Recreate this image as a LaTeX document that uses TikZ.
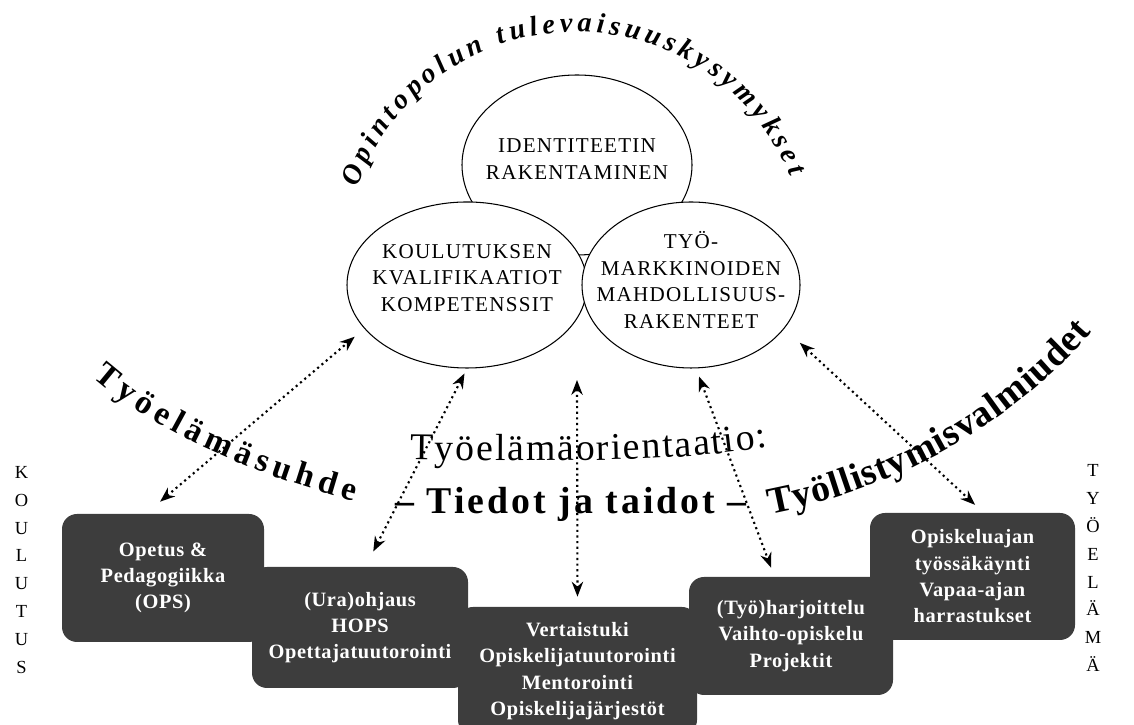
\documentclass[tikz,border=0pt]{standalone}
\usepackage{fontspec}
\setmainfont{Liberation Serif}
\newfontfamily\ovalfont[LetterSpace=6]{Liberation Serif}
\newfontfamily\widefont[LetterSpace=8]{Liberation Serif}
\newfontfamily\boxfont[LetterSpace=3]{Liberation Serif}
\usetikzlibrary{positioning,arrows.meta,shapes.geometric,decorations.text}
\definecolor{boxGray}{HTML}{3D3D3D}

\begin{document}
\begin{tikzpicture}[
  oval/.style={ellipse, draw, fill=white, line width=0.6pt, inner sep=0pt},
  ovaltext/.style={align=center, font=\ovalfont\fontsize{12}{15}\selectfont},
  stepbox/.style={fill=boxGray, rounded corners=0.3cm, text=white, align=center,
    inner sep=0pt, font=\boxfont\bfseries\fontsize{11.6}{15}\selectfont},
  link/.style={dotted, line width=1.2pt,
    {Stealth[length=8.5pt,width=6.5pt]}-{Stealth[length=8.5pt,width=6.5pt]}},
  sideword/.style={align=center, font=\fontsize{10.5}{15.9}\selectfont}
]
\useasboundingbox (0,0) rectangle (22.68,14.5);

% the three circles
\node[oval, minimum width=4.60cm, minimum height=3.60cm] (ident) at (11.54,11.20) {};
\node[oval, minimum width=4.80cm, minimum height=3.32cm] (kou) at (9.34,8.80) {};
\node[oval, minimum width=4.36cm, minimum height=3.32cm] (tyo) at (13.82,8.80) {};
\node[ovaltext] (identtxt) at (11.54,11.32) {IDENTITEETIN\\RAKENTAMINEN};
\node[ovaltext] (koutxt) at (9.34,8.94) {KOULUTUKSEN\\KVALIFIKAATIOT\\KOMPETENSSIT};
\node[ovaltext] (tyotxt) at (13.82,8.90) {TYÖ-\\MARKKINOIDEN\\MAHDOLLISUUS-\\RAKENTEET};

% arc over the top
\path[decorate, decoration={text along path, text align=fit to path,
    text={|\bfseries\itshape\fontsize{16}{18}\selectfont|Opintopolun tulevaisuuskysymykset}}]
  (11.52,9.24) ++(161:4.62) arc[start angle=161, end angle=22, radius=4.62];

% steps from koulutus to tyoelama
\node[stepbox, minimum width=4.04cm, minimum height=2.56cm] (box1) at (3.26,2.94)
  {Opetus \&\\Pedagogiikka\\(OPS)};
\node[stepbox, minimum width=4.32cm, minimum height=2.42cm] (box2) at (7.20,1.95)
  {(Ura)ohjaus\\HOPS\\Opettajatuutorointi};
\node[stepbox, minimum width=4.78cm, minimum height=2.56cm] (box3) at (11.55,1.08)
  {Vertaistuki\\Opiskelijatuutorointi\\Mentorointi\\Opiskelijajärjestöt};
\node[stepbox, minimum width=4.08cm, minimum height=2.36cm] (box4) at (15.82,1.78)
  {(Työ)harjoittelu\\Vaihto-opiskelu\\Projektit};
\node[stepbox, minimum width=4.10cm, minimum height=2.54cm] (box5) at (19.45,2.97)
  {Opiskeluajan\\työssäkäynti\\Vapaa-ajan\\harrastukset};

\node[sideword] (koulutus) at (0.43,3.10) {K\\O\\U\\L\\U\\T\\U\\S};
\node[sideword] (tyoelama) at (21.86,3.14) {T\\Y\\Ö\\E\\L\\Ä\\M\\Ä};

% dotted links
\coordinate (core) at (11.54,6.90);
\draw[link, shorten <=0.37cm, shorten >=0.25cm] ([xshift=-0.34cm]box1.north) -- (kou.203);
\draw[link, shorten <=0.34cm, shorten >=0.11cm] ([xshift=0.11cm]box2.north) -- (kou.south);
\draw[link, shorten >=0.2cm] (core) -- (box3.north);
\draw[link, shorten <=0.17cm, shorten >=0.19cm] ([xshift=0.10cm]tyo.south) -- ([xshift=-0.33cm]box4.north);
\draw[link, shorten <=0.42cm, shorten >=0.23cm] (tyo.335) -- ([xshift=0.22cm]box5.north);

% big bent words
\path[decorate, decoration={text along path, text align=fit to path,
    text={|\bfseries\fontsize{19}{21}\selectfont|Työelämäsuhde}}]
  (1.86,6.96) .. controls (3.30,5.70) and (5.20,5.00) .. (7.08,4.48);
\path[decorate, decoration={text along path, text align=fit to path,
    text={|\fontsize{21.5}{24}\selectfont|Työelämäorientaatio:}}]
  (8.20,5.30) .. controls (11.20,5.26) and (13.60,5.26) .. (15.36,5.56);
\node[anchor=base, inner sep=0pt, font=\widefont\bfseries\fontsize{21.5}{24}\selectfont]
  (midtxt) at (11.42,4.22) {– Tiedot ja taidot –};
\path[decorate, decoration={text along path, text align=fit to path,
    text={|\bfseries\fontsize{21.5}{24}\selectfont|Työllistymisvalmiudet}}]
  (15.40,4.22) .. controls (17.70,4.66) and (20.10,5.86) .. (21.84,7.86);
\end{tikzpicture}
\end{document}
